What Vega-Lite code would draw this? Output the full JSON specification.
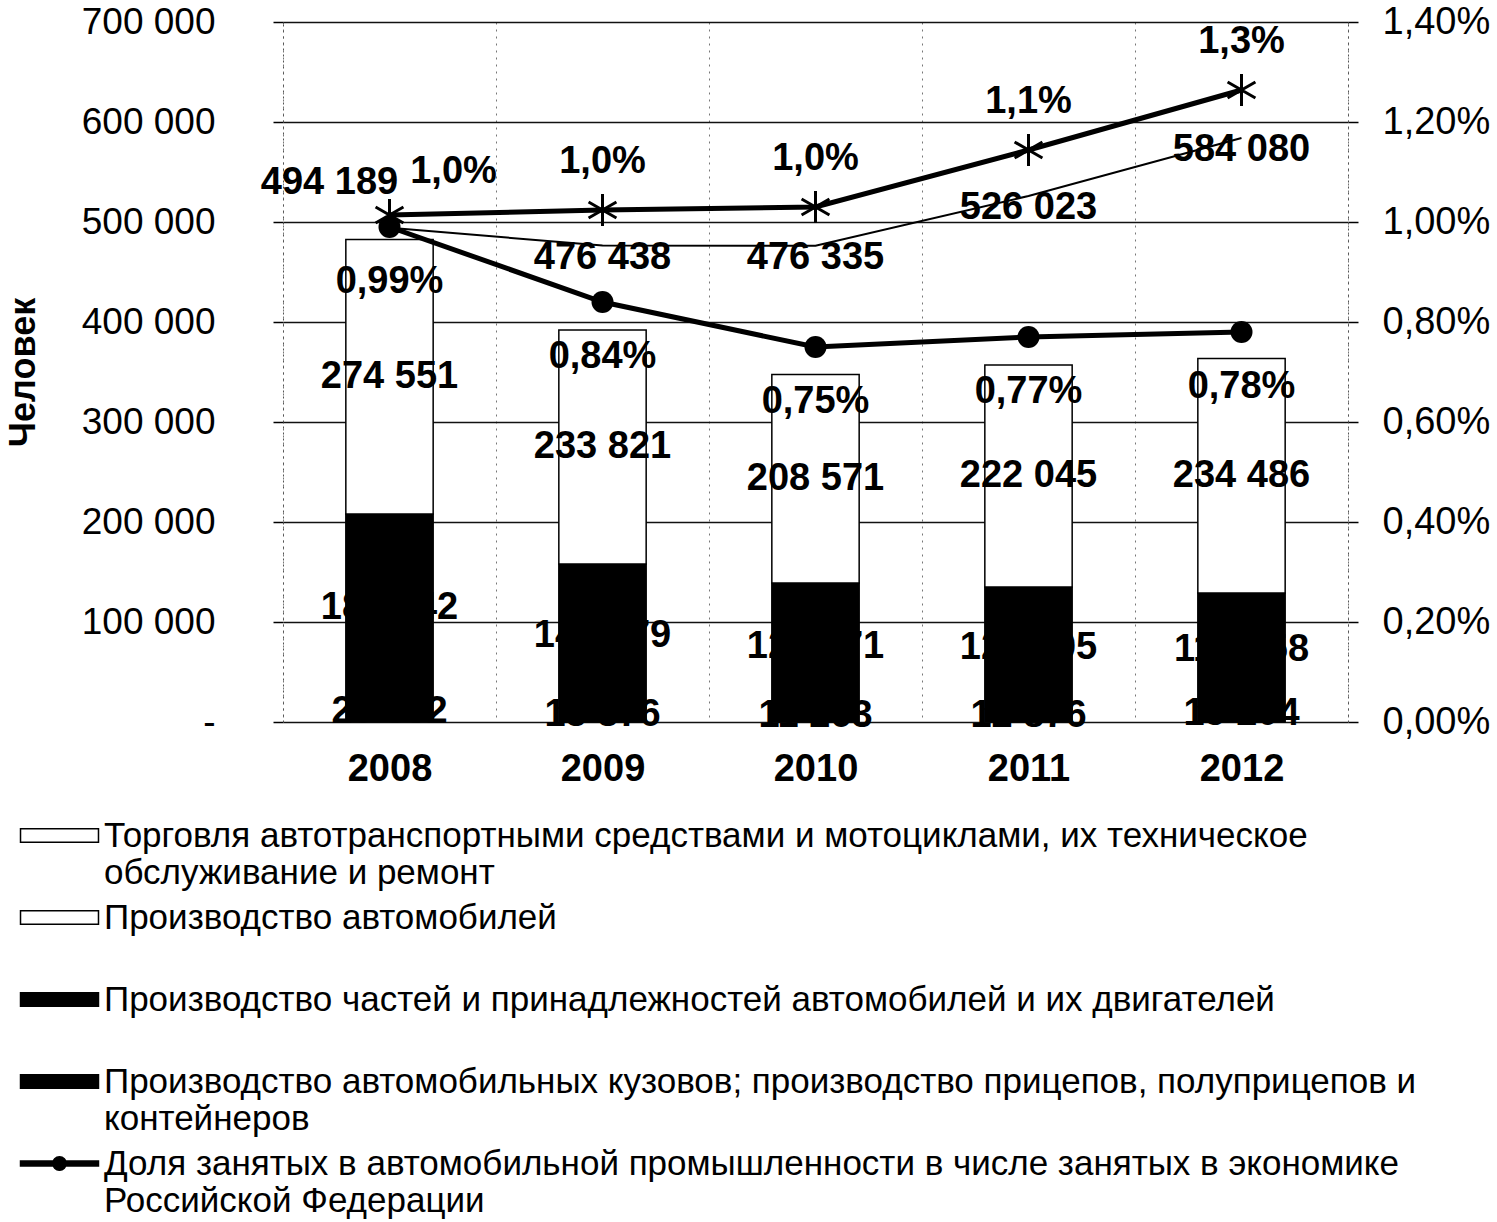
{
  "$schema": "https://vega.github.io/schema/vega-lite/v6.json",
  "width": 1065,
  "height": 700,
  "autosize": {"type": "none"},
  "padding": {"left": 283, "top": 22, "right": 149, "bottom": 500},
  "datasets": {
    "bars": [
      {"year": "2008", "series": "Производство автомобильных кузовов; производство прицепов, полуприцепов и контейнеров", "value": 20832},
      {"year": "2008", "series": "Производство частей и принадлежностей автомобилей и их двигателей", "value": 187142},
      {"year": "2008", "series": "Торговля автотранспортными средствами и мотоциклами, их техническое обслуживание и ремонт", "value": 274551},
      {"year": "2009", "series": "Производство автомобильных кузовов; производство прицепов, полуприцепов и контейнеров", "value": 13876},
      {"year": "2009", "series": "Производство частей и принадлежностей автомобилей и их двигателей", "value": 144179},
      {"year": "2009", "series": "Торговля автотранспортными средствами и мотоциклами, их техническое обслуживание и ремонт", "value": 233821},
      {"year": "2010", "series": "Производство автомобильных кузовов; производство прицепов, полуприцепов и контейнеров", "value": 11263},
      {"year": "2010", "series": "Производство частей и принадлежностей автомобилей и их двигателей", "value": 127771},
      {"year": "2010", "series": "Торговля автотранспортными средствами и мотоциклами, их техническое обслуживание и ремонт", "value": 208571},
      {"year": "2011", "series": "Производство автомобильных кузовов; производство прицепов, полуприцепов и контейнеров", "value": 12876},
      {"year": "2011", "series": "Производство частей и принадлежностей автомобилей и их двигателей", "value": 122105},
      {"year": "2011", "series": "Торговля автотранспортными средствами и мотоциклами, их техническое обслуживание и ремонт", "value": 222045},
      {"year": "2012", "series": "Производство автомобильных кузовов; производство прицепов, полуприцепов и контейнеров", "value": 15204},
      {"year": "2012", "series": "Производство частей и принадлежностей автомобилей и их двигателей", "value": 113758},
      {"year": "2012", "series": "Торговля автотранспортными средствами и мотоциклами, их техническое обслуживание и ремонт", "value": 234486}
    ],
    "lines": [
      {"year": "2008", "total": 494189, "star": 0.01014, "share": 0.0099},
      {"year": "2009", "total": 476438, "star": 0.01024, "share": 0.0084},
      {"year": "2010", "total": 476335, "star": 0.0103, "share": 0.0075},
      {"year": "2011", "total": 526023, "star": 0.01144, "share": 0.0077},
      {"year": "2012", "total": 584080, "star": 0.01264, "share": 0.0078}
    ]
  },
  "encoding": {
    "x": {
      "field": "year", "type": "ordinal",
      "scale": {"paddingInner": 0, "paddingOuter": 0},
      "axis": {
        "title": null, "labelAngle": 0, "labelFontSize": 38, "labelFontWeight": "bold",
        "labelColor": "black", "labelPadding": 28, "ticks": false, "tickSize": 0, "domain": false,
        "grid": true, "tickBand": "extent", "gridDash": [2, 5], "gridColor": "#777", "gridWidth": 1
      }
    }
  },
  "layer": [
    {
      "layer": [
        {
          "data": {"name": "bars"},
          "transform": [
            {"calculate": "indexof(['Производство автомобильных кузовов; производство прицепов, полуприцепов и контейнеров', 'Производство частей и принадлежностей автомобилей и их двигателей', 'Производство автомобилей', 'Торговля автотранспортными средствами и мотоциклами, их техническое обслуживание и ремонт'], datum.series)", "as": "ord"},
            {"stack": "value", "groupby": ["year"], "sort": [{"field": "ord", "order": "ascending"}], "as": ["v0", "v1"]}
          ],
          "mark": {"type": "bar", "width": {"band": 0.41}, "stroke": "black", "strokeWidth": 1.5},
          "encoding": {
            "y": {
              "field": "v0", "type": "quantitative",
              "scale": {"domain": [0, 700000], "nice": false},
              "axis": {
                "values": [0, 100000, 200000, 300000, 400000, 500000, 600000, 700000],
                "format": ",d",
                "labelExpr": "datum.value == 0 ? '-\u2007' : datum.label",
                "labelFontSize": 37, "labelColor": "black", "labelPadding": 58,
                "tickSize": 10, "tickColor": "black", "tickWidth": 1.5,
                "domain": true, "domainDash": [2, 4], "domainColor": "#555",
                "grid": true, "gridColor": "#111", "gridWidth": 1.5,
                "title": "Человек", "titleFontSize": 36, "titleFontWeight": "bold",
                "titleColor": "black", "titlePadding": 41
              }
            },
            "y2": {"field": "v1"},
            "color": {
              "field": "series", "type": "nominal",
              "scale": {
                "domain": [
                  "Торговля автотранспортными средствами и мотоциклами, их техническое обслуживание и ремонт",
                  "Производство автомобилей",
                  "Производство частей и принадлежностей автомобилей и их двигателей",
                  "Производство автомобильных кузовов; производство прицепов, полуприцепов и контейнеров",
                  "Доля занятых в автомобильной промышленности в числе занятых в экономике Российской Федерации"
                ],
                "range": ["white", "white", "black", "black", "black"]
              },
              "legend": {
                "orient": "none", "legendX": -263, "legendY": 796, "direction": "vertical",
                "title": null, "padding": 0,
                "symbolType": "M-4,-0.7H4V0.7H-4Z", "symbolSize": 380,
                "symbolStrokeColor": "black", "symbolStrokeWidth": 1.5, "symbolOpacity": 1,
                "symbolOffset": 22, "labelOffset": 27,
                "labelFontSize": 35, "labelColor": "black", "labelLimit": 1400,
                "labelBaseline": "middle", "rowPadding": 9,
                "labelExpr": "datum.index == 0 ? ['Торговля автотранспортными средствами и мотоциклами, их техническое', 'обслуживание и ремонт'] : datum.index == 1 ? ['Производство автомобилей', ' '] : datum.index == 2 ? ['Производство частей и принадлежностей автомобилей и их двигателей', ' '] : datum.index == 3 ? ['Производство автомобильных кузовов; производство прицепов, полуприцепов  и', 'контейнеров'] : ['Доля занятых в автомобильной промышленности в числе занятых в экономике', 'Российской Федерации']",
                "encode": {
                  "labels": {"update": {"lineHeight": {"value": 37}}},
                  "symbols": {"update": {"shape": {"signal": "datum.index == 4 ? 'M-4,-0.25H4V0.25H-4Z M-0.7,0A0.7,0.7 0 1,1 0.7,0A0.7,0.7 0 1,1 -0.7,0Z' : 'M-4,-0.7H4V0.7H-4Z'"}}}
                }
              }
            }
          }
        },
        {
          "data": {"name": "bars"},
          "transform": [
            {"calculate": "indexof(['Производство автомобильных кузовов; производство прицепов, полуприцепов и контейнеров', 'Производство частей и принадлежностей автомобилей и их двигателей', 'Производство автомобилей', 'Торговля автотранспортными средствами и мотоциклами, их техническое обслуживание и ремонт'], datum.series)", "as": "ord"},
            {"stack": "value", "groupby": ["year"], "sort": [{"field": "ord", "order": "ascending"}], "as": ["v0", "v1"]},
            {"calculate": "(datum.v0 + datum.v1) / 2", "as": "mid"}
          ],
          "mark": {"type": "text", "fontSize": 38, "fontWeight": "bold", "color": "black", "baseline": "middle"},
          "encoding": {
            "y": {"field": "mid", "type": "quantitative"},
            "text": {"field": "value", "type": "quantitative", "format": ",d"}
          }
        },
        {
          "data": {"name": "lines"},
          "mark": {"type": "line", "color": "black", "strokeWidth": 2},
          "encoding": {"y": {"field": "total", "type": "quantitative"}}
        },
        {
          "data": {"name": "lines"},
          "transform": [{"filter": "datum.year == '2008'"}],
          "mark": {"type": "text", "fontSize": 38, "fontWeight": "bold", "color": "black", "baseline": "middle", "dx": -60, "dy": -45},
          "encoding": {
            "y": {"field": "total", "type": "quantitative"},
            "text": {"field": "total", "type": "quantitative", "format": ",d"}
          }
        },
        {
          "data": {"name": "lines"},
          "transform": [{"filter": "datum.year != '2008'"}],
          "mark": {"type": "text", "fontSize": 38, "fontWeight": "bold", "color": "black", "baseline": "middle", "dy": 12},
          "encoding": {
            "y": {"field": "total", "type": "quantitative"},
            "text": {"field": "total", "type": "quantitative", "format": ",d"}
          }
        }
      ]
    },
    {
      "layer": [
        {
          "data": {"name": "lines"},
          "mark": {"type": "line", "color": "black", "strokeWidth": 5},
          "encoding": {
            "y": {
              "field": "star", "type": "quantitative",
              "scale": {"domain": [0, 0.014], "nice": false},
              "axis": {
                "orient": "right",
                "values": [0, 0.002, 0.004, 0.006, 0.008, 0.01, 0.012, 0.014],
                "format": ".2%", "labelFontSize": 38, "labelColor": "black", "labelPadding": 24,
                "tickSize": 10, "tickColor": "black", "tickWidth": 1.5,
                "domain": true, "domainDash": [2, 4], "domainColor": "#555",
                "grid": false, "title": null
              }
            }
          }
        },
        {
          "data": {"name": "lines"},
          "mark": {"type": "point", "shape": "M0,-1V1M-0.87,-0.5L0.87,0.5M-0.87,0.5L0.87,-0.5", "size": 1024, "filled": false, "stroke": "black", "strokeWidth": 3, "opacity": 1},
          "encoding": {"y": {"field": "star", "type": "quantitative"}}
        },
        {
          "data": {"name": "lines"},
          "transform": [{"filter": "datum.year == '2008'"}],
          "mark": {"type": "text", "fontSize": 38, "fontWeight": "bold", "color": "black", "baseline": "middle", "dx": 64, "dy": -43},
          "encoding": {
            "y": {"field": "star", "type": "quantitative"},
            "text": {"field": "star", "type": "quantitative", "format": ".1%"}
          }
        },
        {
          "data": {"name": "lines"},
          "transform": [{"filter": "datum.year != '2008'"}],
          "mark": {"type": "text", "fontSize": 38, "fontWeight": "bold", "color": "black", "baseline": "middle", "dy": -48},
          "encoding": {
            "y": {"field": "star", "type": "quantitative"},
            "text": {"field": "star", "type": "quantitative", "format": ".1%"}
          }
        },
        {
          "data": {"name": "lines"},
          "mark": {"type": "line", "color": "black", "strokeWidth": 5},
          "encoding": {"y": {"field": "share", "type": "quantitative"}}
        },
        {
          "data": {"name": "lines"},
          "mark": {"type": "point", "shape": "circle", "size": 484, "filled": true, "color": "black", "opacity": 1},
          "encoding": {"y": {"field": "share", "type": "quantitative"}}
        },
        {
          "data": {"name": "lines"},
          "mark": {"type": "text", "fontSize": 38, "fontWeight": "bold", "color": "black", "baseline": "middle", "dy": 55},
          "encoding": {
            "y": {"field": "share", "type": "quantitative"},
            "text": {"field": "share", "type": "quantitative", "format": ".2%"}
          }
        }
      ]
    }
  ],
  "resolve": {"scale": {"y": "independent"}},
  "config": {
    "font": "Liberation Sans",
    "view": {"stroke": null},
    "locale": {"number": {"decimal": ",", "thousands": " ", "grouping": [3], "currency": ["", ""]}},
    "axis": {"labelFont": "Liberation Sans", "titleFont": "Liberation Sans"},
    "legend": {"labelFont": "Liberation Sans"}
  }
}
